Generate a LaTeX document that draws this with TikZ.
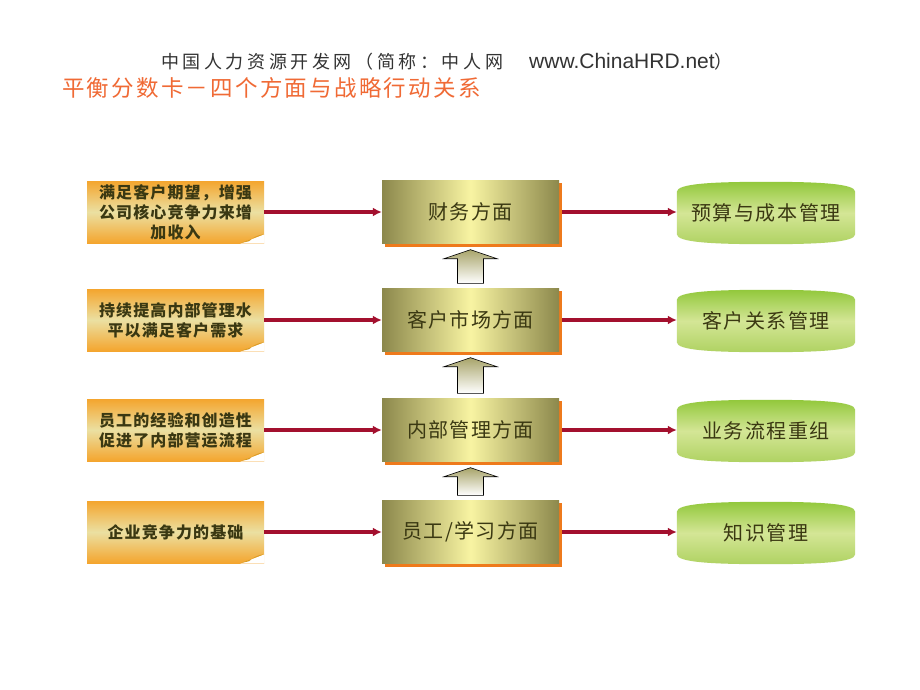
\documentclass[tikz,border=0pt]{standalone}
\usepackage{fontspec}
\setmainfont{Liberation Sans}
\newfontfamily\cjk{Noto Sans CJK SC}
\usetikzlibrary{arrows.meta,backgrounds,calc}
\definecolor{arrred}{HTML}{A3102E}
\definecolor{noteorange}{HTML}{F4A52E}
\definecolor{notelight}{HTML}{EBE0A2}
\definecolor{notetext}{HTML}{3A3812}
\definecolor{foldc}{HTML}{D99A22}
\definecolor{olive}{HTML}{8C884C}
\definecolor{paleyel}{HTML}{F8F4A2}
\definecolor{shadoworange}{HTML}{EE7A1C}
\definecolor{gtop}{HTML}{92C83C}
\definecolor{gmid}{HTML}{D4E696}
\definecolor{gbot}{HTML}{AFD262}
\definecolor{arrtop}{HTML}{A8A46A}
\definecolor{titleorange}{HTML}{F06A35}
\definecolor{titlegray}{HTML}{333333}
\tikzset{
  notebox/.style={minimum width=177pt, minimum height=62pt, inner sep=0pt, align=center,
    top color=noteorange, bottom color=noteorange, middle color=notelight,
    text=notetext, font=\cjk\addfontfeature{LetterSpace=7}\bfseries\fontsize{16}{20}\selectfont},
  aspectbox/.style={minimum width=177pt, minimum height=63pt, inner sep=0pt, align=center,
    left color=olive, right color=olive, middle color=paleyel,
    text=notetext, font=\cjk\addfontfeature{LetterSpace=7}\fontsize{20}{24}\selectfont},
  actionbox/.style={minimum width=178pt, minimum height=62pt, inner sep=0pt, align=center,
    text=notetext, font=\cjk\addfontfeature{LetterSpace=8}\fontsize{20}{24}\selectfont},
  redarrow/.style={draw=arrred, line width=3.2pt, -{Latex[length=9pt,width=9pt]}},
  greenshade/.style={top color=gtop, bottom color=gbot, middle color=gmid},
  blockshade/.style={top color=arrtop, bottom color=white, draw=black, line width=0.6pt}
}
\newcommand\myfold[1]{%
  \fill[white] ($(#1.south east)+(-24,0.5)$) -- ($(#1.south east)+(0.5,0.5)$) -- ($(#1.south east)+(0.5,-9)$) -- cycle;
  \fill[foldc] ($(#1.south east)+(-24,0)$) -- ($(#1.south east)+(0,-9)$) .. controls ($(#1.south east)+(-8,-8)$) and ($(#1.south east)+(-12,-5)$) .. ($(#1.south east)+(-15,-2)$) -- cycle;}
\newcommand\myshadow[1]{%
  \fill[shadoworange] ($(#1.south west)+(3,3)$) rectangle ($(#1.north east)+(3,3)$);}
\newcommand\mybarrel[1]{%
  \shade[greenshade] ($(#1.north west)+(0,10)$) .. controls +(0,-8) and +(-55,0) .. (#1.north)
    .. controls +(55,0) and +(0,-8) .. ($(#1.north east)+(0,10)$)
    -- ($(#1.south east)+(0,-10)$) .. controls +(0,8) and +(55,0) .. (#1.south)
    .. controls +(-55,0) and +(0,8) .. ($(#1.south west)+(0,-10)$) -- cycle;}
\newcommand\blockarrow[2]{% #1 lower box, #2 upper box
  \coordinate (at) at ($(#2.south)+(0,6)$);
  \coordinate (ab) at ($(#1.north)+(0,-5)$);
  \shade[blockshade] (at) -- ($(at)+(26.5,9)$) -- ($(at)+(13,9)$) -- ($(ab)+(13,0)$)
    -- ($(ab)+(-13,0)$) -- ($(at)+(-13,9)$) -- ($(at)+(-26.5,9)$) -- cycle;}
\begin{document}
\begin{tikzpicture}[x=1pt,y=-1pt]
\useasboundingbox (0,0) rectangle (920,690);
\begin{scope}[on background layer]
  \fill[white] (0,0) rectangle (920,690);
\end{scope}

\node[anchor=west, inner sep=0pt, text=titlegray] (t1) at (161,62)
  {{\cjk\addfontfeature{LetterSpace=20}\fontsize{18}{22}\selectfont 中国人力资源开发网（简称：中人网}\hspace{26pt}{\fontsize{21}{24}\selectfont www.ChinaHRD.net}{\cjk\fontsize{18}{22}\selectfont ）}};
\node[anchor=west, inner sep=0pt, text=titleorange, font=\cjk\addfontfeature{LetterSpace=10}\fontsize{22.5}{26}\selectfont] (t2) at (62,88)
  {平衡分数卡－四个方面与战略行动关系};

% notes
\node[notebox] (n1) at (175.5,212) {满足客户期望，增强\\公司核心竞争力来增\\加收入};
\node[notebox] (n2) at (175.5,320) {持续提高内部管理水\\平以满足客户需求};
\node[notebox] (n3) at (175.5,430) {员工的经验和创造性\\促进了内部营运流程};
\node[notebox] (n4) at (175.5,532) {企业竞争力的基础};
\foreach \n in {n1,n2,n3,n4} {\myfold{\n}}

% aspects
\node[aspectbox] (b1) at (470.5,212) {财务方面};
\node[aspectbox] (b2) at (470.5,320) {客户市场方面};
\node[aspectbox] (b3) at (470.5,430) {内部管理方面};
\node[aspectbox] (b4) at (470.5,532) {员工/学习方面};

% actions
\node[actionbox] (g1) at (766,213) {预算与成本管理};
\node[actionbox] (g2) at (766,321) {客户关系管理};
\node[actionbox] (g3) at (766,431) {业务流程重组};
\node[actionbox] (g4) at (766,533) {知识管理};

\begin{scope}[on background layer]
  \foreach \b in {b1,b2,b3,b4} {\myshadow{\b}}
  \foreach \g in {g1,g2,g3,g4} {\mybarrel{\g}}
\end{scope}

\blockarrow{b2}{b1}
\blockarrow{b3}{b2}
\blockarrow{b4}{b3}

\foreach \i in {1,2,3,4} {
  \draw[redarrow] (n\i.east) -- (b\i.west);
  \draw[redarrow] ($(b\i.east)+(3,0)$) -- (g\i.west |- b\i.east);
}
\end{tikzpicture}
\end{document}
